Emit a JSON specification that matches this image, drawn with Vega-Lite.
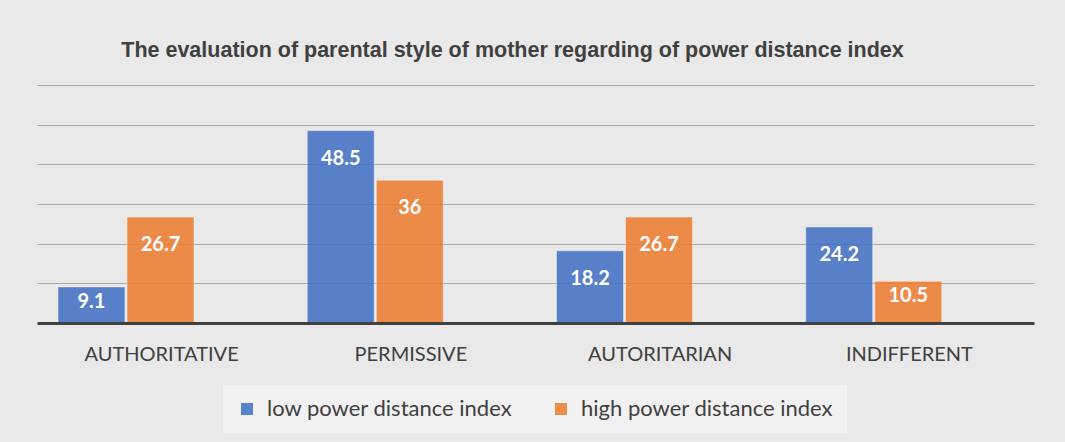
{
  "$schema": "https://vega.github.io/schema/vega-lite/v6.json",
  "width": 997,
  "height": 238,
  "autosize": {"type": "none"},
  "padding": {"left": 37, "top": 85, "right": 31, "bottom": 119},
  "background": "#e9e9e9",
  "config": {"view": {"stroke": null}},
  "title": {
    "text": "The evaluation of parental style of mother regarding of power distance index",
    "font": "Liberation Sans",
    "fontSize": 21.5,
    "fontWeight": "bold",
    "color": "#404040",
    "anchor": "middle",
    "dx": -23,
    "offset": 24
  },
  "data": {
    "values": [
      {"style": "AUTHORITATIVE", "series": "low power distance index", "value": 9.1},
      {"style": "AUTHORITATIVE", "series": "high power distance index", "value": 26.7},
      {"style": "PERMISSIVE", "series": "low power distance index", "value": 48.5},
      {"style": "PERMISSIVE", "series": "high power distance index", "value": 36},
      {"style": "AUTORITARIAN", "series": "low power distance index", "value": 18.2},
      {"style": "AUTORITARIAN", "series": "high power distance index", "value": 26.7},
      {"style": "INDIFFERENT", "series": "low power distance index", "value": 24.2},
      {"style": "INDIFFERENT", "series": "high power distance index", "value": 10.5}
    ]
  },
  "encoding": {
    "x": {
      "field": "style",
      "type": "nominal",
      "sort": ["AUTHORITATIVE", "PERMISSIVE", "AUTORITARIAN", "INDIFFERENT"],
      "scale": {"paddingInner": 0, "paddingOuter": 0},
      "axis": {
        "title": null,
        "ticks": false,
        "labelAngle": 0,
        "labelFont": "Lato",
        "labelFontSize": 20,
        "labelColor": "#404040",
        "labelPadding": 21,
        "domainColor": "#404040",
        "domainWidth": 3,
        "zindex": 1
      }
    },
    "xOffset": {
      "field": "series",
      "type": "nominal",
      "sort": ["low power distance index", "high power distance index"],
      "scale": {"range": [21, 157], "paddingInner": 0.03, "paddingOuter": 0}
    },
    "y": {
      "field": "value",
      "type": "quantitative",
      "scale": {"domain": [0, 60], "nice": false},
      "axis": {
        "title": null,
        "labels": false,
        "ticks": false,
        "domain": false,
        "grid": true,
        "values": [10, 20, 30, 40, 50, 60],
        "gridColor": "#a8a8a8",
        "gridWidth": 1
      }
    }
  },
  "layer": [
    {
      "mark": {"type": "bar", "opacity": 0.88, "stroke": "#ffffff", "strokeOpacity": 0.45, "strokeWidth": 1},
      "encoding": {
        "color": {
          "field": "series",
          "type": "nominal",
          "sort": ["low power distance index", "high power distance index"],
          "scale": {"range": ["#4472C4", "#ED7D31"]},
          "legend": {
            "title": null,
            "orient": "none",
            "legendX": 186,
            "legendY": 300,
            "direction": "horizontal",
            "fillColor": "#f1f1f1",
            "padding": 13,
            "labelFont": "Lato",
            "labelFontSize": 22,
            "labelColor": "#404040",
            "labelOffset": 9,
            "symbolType": "square",
            "symbolSize": 144,
            "symbolStrokeWidth": 0,
            "symbolOpacity": 0.88,
            "columnPadding": 37,
            "labelLimit": 400
          }
        }
      }
    },
    {
      "transform": [{"filter": "datum.value >= 15"}],
      "mark": {"type": "text", "baseline": "top", "dy": 18, "font": "Lato", "fontSize": 20, "fontWeight": "bold", "color": "#ffffff"},
      "encoding": {"text": {"field": "value", "type": "nominal"}}
    },
    {
      "transform": [{"filter": "datum.value < 15"}],
      "mark": {"type": "text", "baseline": "top", "dy": 5, "font": "Lato", "fontSize": 20, "fontWeight": "bold", "color": "#ffffff"},
      "encoding": {"text": {"field": "value", "type": "nominal"}}
    }
  ]
}
